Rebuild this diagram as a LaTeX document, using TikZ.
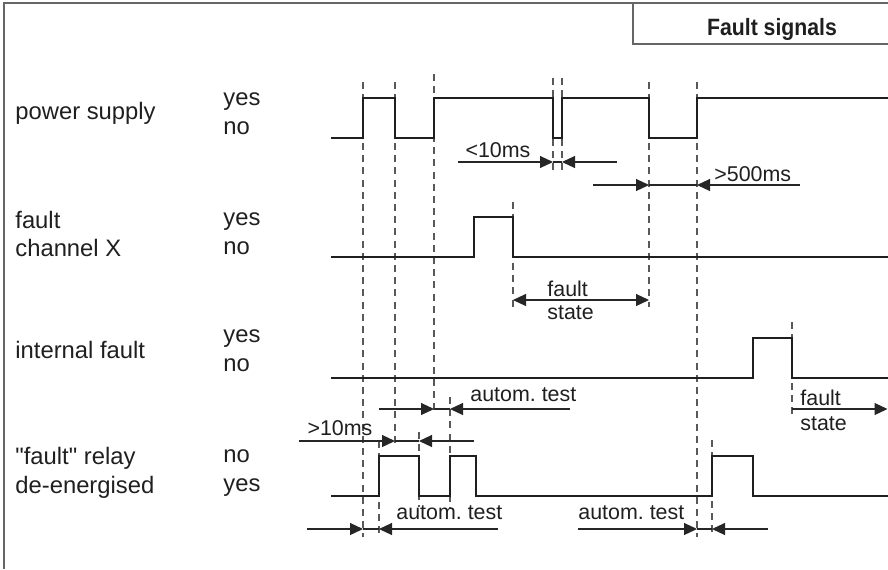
\documentclass[tikz,border=0pt]{standalone}
\usepackage{fontspec}
\usepackage{graphicx}
\setmainfont{Liberation Sans}[Ligatures=TeXOff]
\usetikzlibrary{arrows.meta}
\frenchspacing
\tikzset{
  sig/.style={line width=1.2pt, draw=black!88, line join=miter},
  guide/.style={line width=0.55pt, draw=black!65, dash pattern=on 3.5pt off 2.6pt},
  dim/.style={line width=0.55pt, draw=black!85},
  frame/.style={line width=0.6pt, draw=black!60},
  lbl/.style={font=\fontsize{11.9}{14.3}\selectfont, inner sep=0pt, align=left, anchor=west},
  dlbl/.style={font=\fontsize{10.7}{13}\selectfont, inner sep=0pt, align=left},
  >={Triangle[length=6.5pt, width=6pt]},
}
% y, left end, right-pointing tip, left-pointing tip, right end
\newcommand{\dimpair}[5]{
  \draw[dim,->] (#2,#1) -- (#3,#1);
  \draw[dim] (#3,#1) -- (#4,#1);
  \draw[dim,->] (#5,#1) -- (#4,#1);
}

\begin{document}
\begin{tikzpicture}[x=0.5pt, y=-0.5pt, text=black!88]
\useasboundingbox (0,0) rectangle (888,569);

% ── Frame and title ─────────────────────────────────────────
\draw[frame] (4,569) -- (4,3) -- (888,3);
\draw[frame] (633,3) -- (633,44) -- (888,44);
\node[font=\fontsize{11.8}{13}\selectfont\bfseries, inner sep=0pt] (title) at (772,29)
  {\scalebox{0.9}[1]{Fault signals}};

% ── Signal names ────────────────────────────────────────────
\node[lbl] (nPow) at (15,113) {power supply};
\node[lbl] (nChX) at (15,234) {fault\\channel X};
\node[lbl] (nInt) at (15,350) {internal fault};
\node[lbl] (nRel) at (15,473) {"fault" relay\\de-energised};

\node[lbl] (lPow) at (223,114) {yes\\no};
\node[lbl] (lChX) at (223,234) {yes\\no};
\node[lbl] (lInt) at (223,351) {yes\\no};
\node[lbl] (lRel) at (223,473) {no\\yes};

% ── Guide lines ─────────────────────────────────────────────
\foreach \x/\a/\b in {363/82/537, 395/82/448, 434/74/412, 553/78/170, 562/78/170,
  649/82/307, 697/82/537, 513/202/307, 792/322/416, 379/441/537,
  450/397/507, 419/432/507, 712/440/537} {
  \draw[guide] (\x,\a) -- (\x,\b);
}

% ── Signals ─────────────────────────────────────────────────
\draw[sig] (331,138) -- (363,138) -- (363,98) -- (395,98) -- (395,138) -- (434,138)
  -- (434,98) -- (553,98) -- (553,138) -- (562,138) -- (562,98) -- (649,98)
  -- (649,138) -- (697,138) -- (697,98) -- (888,98);
\draw[sig] (331,257) -- (474,257) -- (474,217) -- (513,217) -- (513,257) -- (888,257);
\draw[sig] (331,378) -- (753,378) -- (753,338) -- (792,338) -- (792,378) -- (888,378);
\draw[sig] (331,496) -- (379,496) -- (379,456) -- (419,456) -- (419,496) -- (450,496)
  -- (450,456) -- (476,456) -- (476,496) -- (712,496) -- (712,456) -- (753,456)
  -- (753,496) -- (888,496);

% ── Durations ───────────────────────────────────────────────
\dimpair{162}{458}{553}{562}{617}
\node[dlbl] (t10) at (498,150) {<10ms};

\dimpair{185}{593}{649}{697}{800}
\node[dlbl, anchor=west] (t500) at (714,174) {>500ms};

\draw[dim,<->] (513,300) -- (649,300);
\node[dlbl, anchor=west] (fs1) at (547,289) {fault};
\node[dlbl, anchor=west] (fs2) at (547,313) {state};

\draw[dim,->] (792,409) -- (887.5,409);
\node[dlbl, anchor=west] (fs3) at (800,398) {fault};
\node[dlbl, anchor=west] (fs4) at (800,424) {state};

\dimpair{409}{379}{434}{450}{570}
\node[dlbl, anchor=west] (at1) at (470,395) {autom. test};

\dimpair{441}{299}{395}{419}{474}
\node[dlbl] (t10b) at (340,428) {>10ms};

\dimpair{529}{307}{363}{379}{498}
\node[dlbl, anchor=west] (at2) at (396,513) {autom. test};

\dimpair{529}{578}{697}{712}{768}
\node[dlbl, anchor=west] (at3) at (578,513) {autom. test};

\end{tikzpicture}
\end{document}
